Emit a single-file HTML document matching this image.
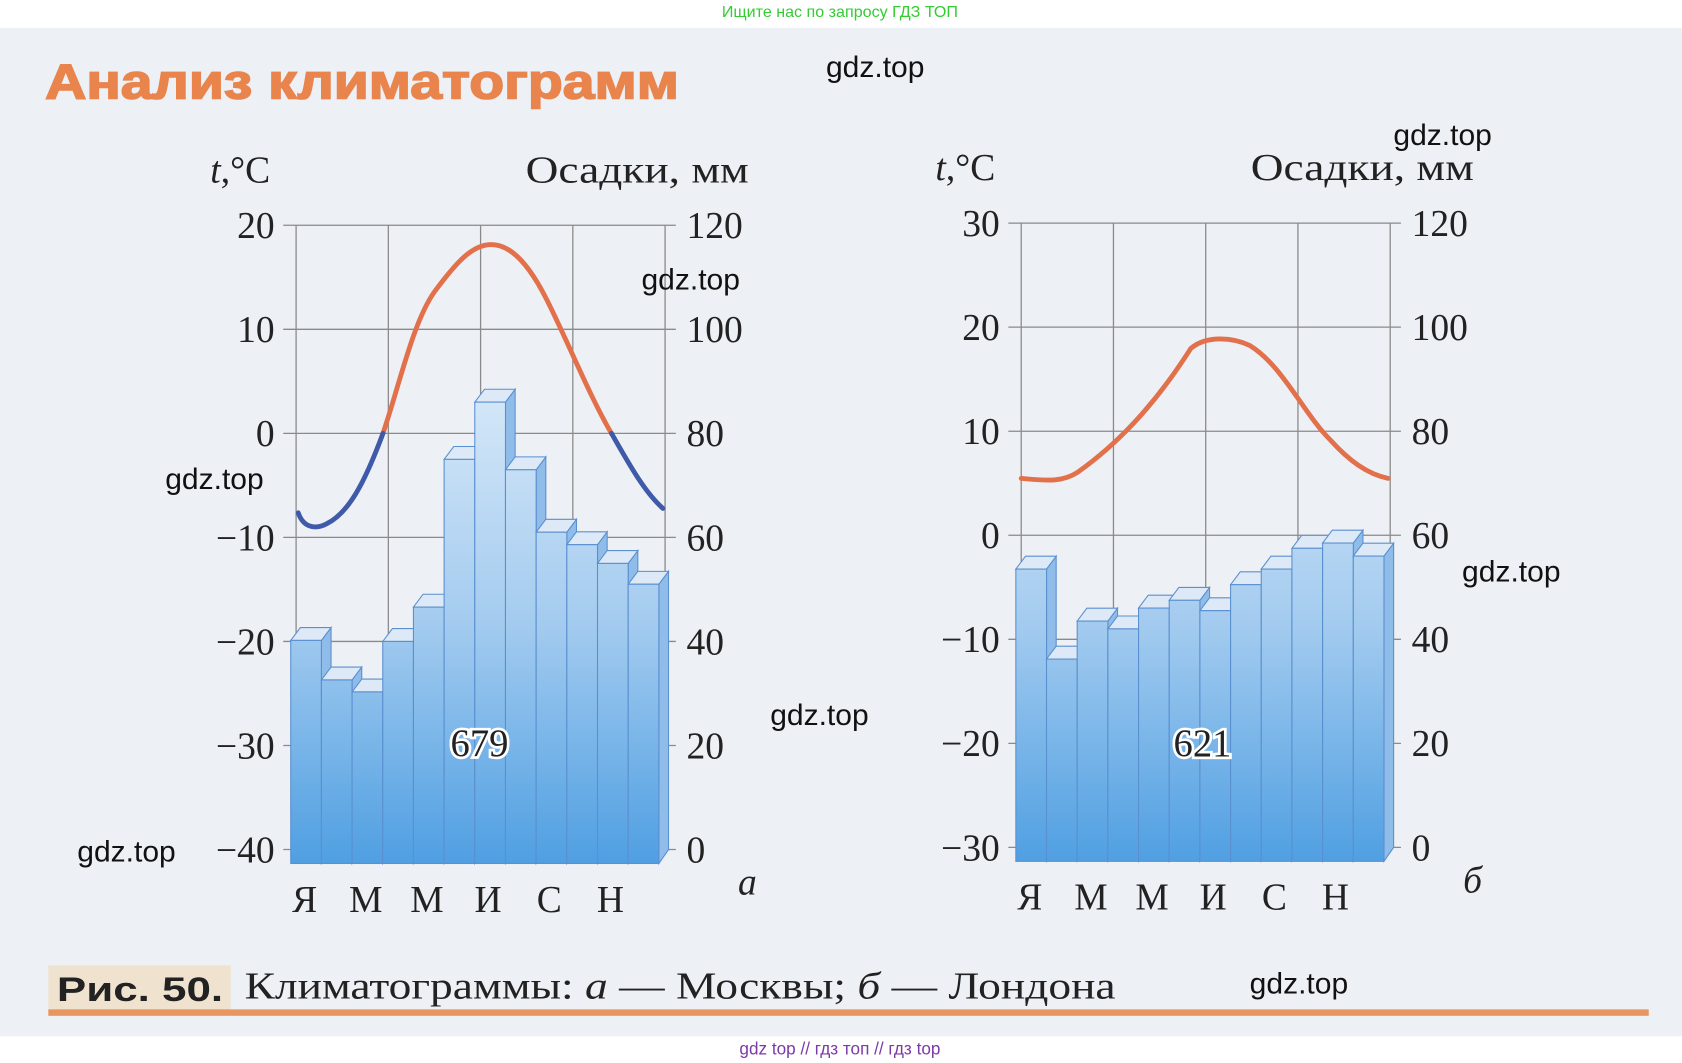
<!DOCTYPE html>
<html><head><meta charset="utf-8"><style>
html,body{margin:0;padding:0;background:#fff;}
svg{display:block}
.s{font-family:"Liberation Serif","DejaVu Serif",serif;font-size:35px;fill:#222}
.w{font-family:"Liberation Sans","DejaVu Sans",sans-serif;font-size:28px;fill:#111}
</style></head><body>
<svg id="c" width="1682" height="1063" viewBox="0 0 1568 991" xmlns="http://www.w3.org/2000/svg">
<defs>
<linearGradient id="g" gradientUnits="userSpaceOnUse" x1="0" y1="360" x2="0" y2="805">
<stop offset="0" stop-color="#d6e8f8"/><stop offset="0.5" stop-color="#a3cbef"/><stop offset="1" stop-color="#4f9fe2"/></linearGradient>
</defs>
<rect x="0" y="0" width="1568" height="991" fill="#fff"/>
<rect x="0" y="26" width="1568" height="940" fill="#edf0f5"/>
<text x="783" y="16" text-anchor="middle" style="font-family:'Liberation Sans',sans-serif;font-size:15px;fill:#33cc33">Ищите нас по запросу ГДЗ ТОП</text>
<text x="42" y="92" textLength="591" lengthAdjust="spacingAndGlyphs" style="font-family:'Liberation Sans','DejaVu Sans',sans-serif;font-weight:bold;font-size:46px;fill:#e8844c;stroke:#e8844c;stroke-width:1.5">Анализ климатограмм</text>
<g id="charts"></g>
<rect x="45" y="900" width="170" height="44" fill="#efe2cf"/>
<text x="53" y="933" textLength="155" lengthAdjust="spacingAndGlyphs" style="font-family:'Liberation Sans',sans-serif;font-weight:bold;font-size:32px;fill:#222">Рис. 50.</text>
<text x="228" y="931" class="s" textLength="812" lengthAdjust="spacingAndGlyphs" style="font-size:35px">Климатограммы: <tspan font-style="italic">а</tspan> — Москвы; <tspan font-style="italic">б</tspan> — Лондона</text>
<rect x="45" y="941" width="1492" height="6" fill="#e8955f"/>
<text x="783" y="983" text-anchor="middle" style="font-family:'Liberation Sans',sans-serif;font-size:16px;fill:#7a3aa8">gdz top  //  гдз топ  //  гдз top</text>
<g id="wm"></g>
</svg>
<script>
var NS="http://www.w3.org/2000/svg",C=document.getElementById("charts");
function el(t,a,txt){var e=document.createElementNS(NS,t);for(var k in a)e.setAttribute(k,a[k]);if(txt!=null)e.textContent=txt;C.appendChild(e);return e;}
function chart(o){
 var L=o.L,R=L+344,top=o.top,st=(o.bot-top)/6;
 for(var i=0;i<7;i++){var y=top+i*st;el("line",{x1:L-12,x2:R+10,y1:y,y2:y,stroke:"#8a8a8a","stroke-width":1.2});
  el("text",{x:L-20,y:y+12,"text-anchor":"end",class:"s"},o.tl[i]);
  el("text",{x:R+20,y:y+12,class:"s"},String(120-i*20));}
 for(var i=0;i<5;i++){var x=L+i*86;el("line",{x1:x,x2:x,y1:top,y2:o.bot,stroke:"#8a8a8a","stroke-width":1.2});}
 var w=28.6,bx=L-5,fb=o.bot+13;
 for(var i=0;i<12;i++){var x=bx+i*w,y=o.bot-(o.p[i])*(o.bot-top)/120+0;
  el("polygon",{points:(x+w)+","+y+" "+(x+w+9)+","+(y-12)+" "+(x+w+9)+","+(o.bot)+" "+(x+w)+","+fb,fill:"#8fbce8",stroke:"#5a8fd0","stroke-width":1});
  el("polygon",{points:x+","+y+" "+(x+9)+","+(y-12)+" "+(x+w+9)+","+(y-12)+" "+(x+w)+","+y,fill:"#dde9f6",stroke:"#5a8fd0","stroke-width":1});
  el("rect",{x:x,y:y,width:w,height:fb-y,fill:"url(#g)",stroke:"#5a8fd0","stroke-width":1});}
 el("text",{x:o.tx,y:705,"text-anchor":"middle",class:"s",style:"font-size:36px;stroke:#fff;stroke-width:5;paint-order:stroke;fill:#222"},o.total);
 el("path",{d:o.pathO,fill:"none",stroke:"#e2704a","stroke-width":4.5,"stroke-linecap":"round"});
 if(o.pathB)o.pathB.forEach(function(d){el("path",{d:d,fill:"none",stroke:"#3e5aa8","stroke-width":4.5,"stroke-linecap":"round"});});
 el("text",{x:L-80,y:top-40,class:"s"}).innerHTML='<tspan font-style="italic">t</tspan>,°C';
 el("text",{x:R-130,y:top-40,class:"s",textLength:208,lengthAdjust:"spacingAndGlyphs"},"Осадки, мм");
 var m=["Я","М","М","И","С","Н"];for(var i=0;i<6;i++)el("text",{x:L+8+i*57,y:o.bot+58,"text-anchor":"middle",class:"s"},m[i]);
 el("text",{x:R+68,y:o.bot+42,class:"s",style:"font-style:italic"},o.lab);
}
chart({L:276,top:210,bot:792,tl:["20","10","0","−10","−20","−30","−40"],
 p:[40.2,32.6,30.3,40,46.6,75,86,73,61,58.6,55,51],total:"679",tx:447,lab:"а",
 pathO:"M357,404 C372,360 385,300 405,272 C425,245 440,228 458,228 C478,228 495,250 510,280 C530,320 550,370 570,404",
 pathB:["M278,478 C282,490 292,495 305,488 C325,478 340,450 357,404","M570,404 C585,430 600,458 618,474"]});
chart({L:952,top:208,bot:790,tl:["30","20","10","0","−10","−20","−30"],
 p:[53.5,36.2,43.5,42,46,47.5,45.5,50.5,53.5,57.5,58.5,56],total:"621",tx:1121,lab:"б",
 pathO:"M952,446 C975,448 990,450 1005,440 C1040,415 1075,380 1110,325 C1125,312 1150,315 1165,322 C1195,340 1215,385 1240,410 C1258,430 1275,442 1294,446"});
var W=document.getElementById("wm");
[[770,72],[1299,135],[598,270],[154,456],[1363,542],[718,676],[72,803],[1165,926]].forEach(function(p){var t=document.createElementNS(NS,"text");t.setAttribute("x",p[0]);t.setAttribute("y",p[1]);t.setAttribute("class","w");t.textContent="gdz.top";W.appendChild(t);});
</script>
</body></html>
